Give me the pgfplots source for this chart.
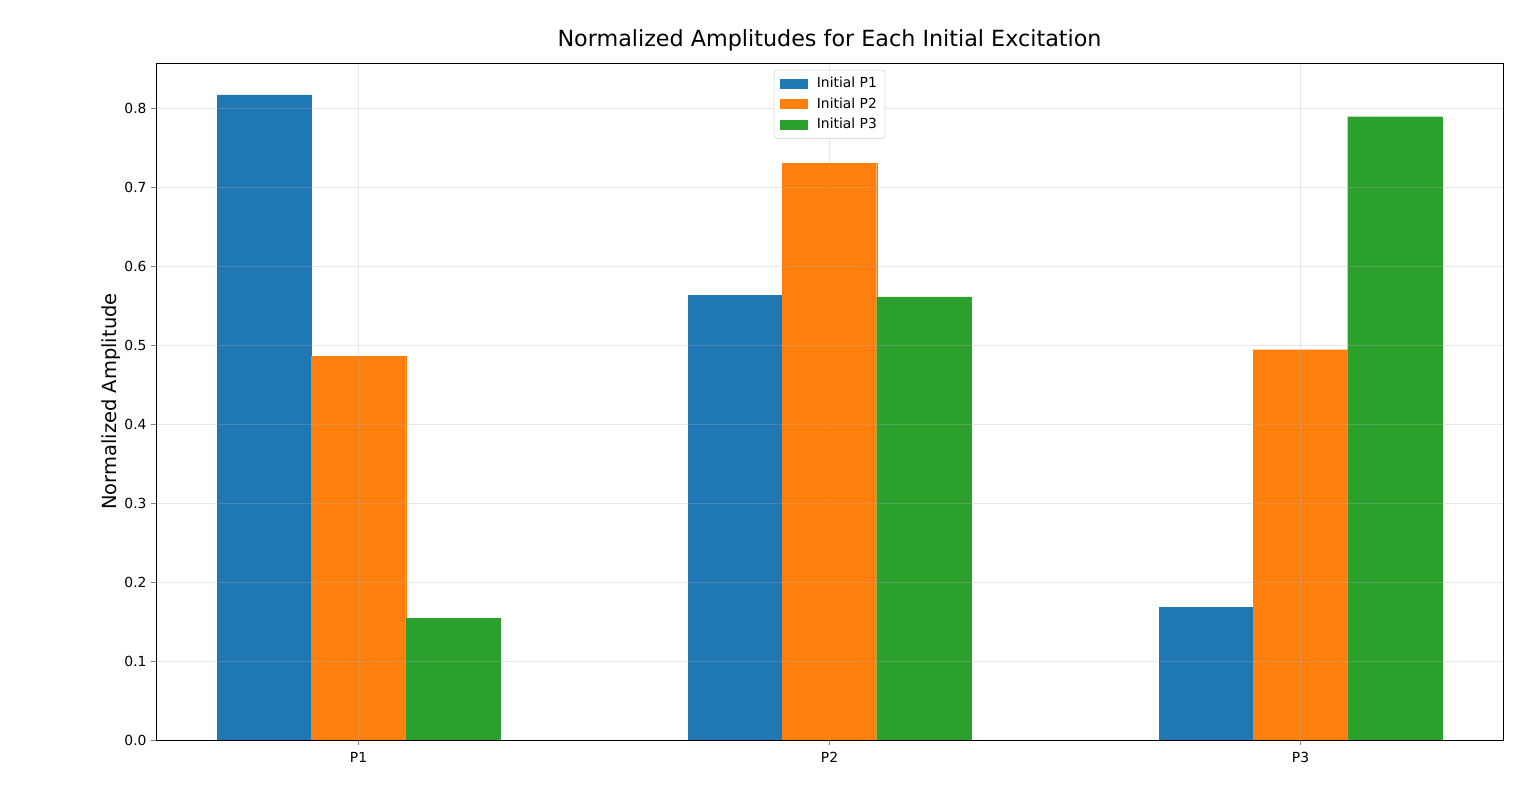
\documentclass[border=0pt]{standalone}
\usepackage{pgfplots}
\pgfplotsset{compat=1.18}
\usepackage{fontspec}
\setmainfont{DejaVu Sans}
\definecolor{tabblue}{HTML}{1F77B4}
\definecolor{taborange}{HTML}{FF7F0E}
\definecolor{tabgreen}{HTML}{2CA02C}
\begin{document}
\begin{tikzpicture}
\useasboundingbox (-117pt,-46.5pt) rectangle (1035pt,555pt);
\begin{axis}[
  at={(0,0)}, anchor=south west,
  scale only axis,
  width=1010.25pt, height=507.75pt,
  xmin=-0.43, xmax=2.43,
  ymin=0, ymax=0.857,
  xtick={0,1,2},
  xticklabels={P1,P2,P3},
  ytick={0,0.1,0.2,0.3,0.4,0.5,0.6,0.7,0.8},
  yticklabel style={/pgf/number format/fixed,/pgf/number format/fixed zerofill,/pgf/number format/precision=1},
  xticklabel style={yshift=-2pt},
  /pgf/number format/assume math mode=true,
  tick label style={font=\fontsize{10.4}{12}\selectfont},
  tick align=outside,
  tick pos=left,
  major tick length=3.6pt,
  grid=major,
  major grid style={draw=black!31, opacity=0.3, line width=0.6pt},
  axis on top,
  axis line style={line width=0.6pt},
  ybar,
  bar width=0.2,
  title={Normalized Amplitudes for Each Initial Excitation},
  title style={font=\fontsize{16.7}{20}\selectfont, yshift=-1pt},
  ylabel={Normalized Amplitude},
  ylabel style={font=\fontsize{14.6}{17}\selectfont, yshift=-4pt},
  legend style={at={(0.5,0.99)}, anchor=north, font=\fontsize{10.4}{12}\selectfont,
    draw=black!20, rounded corners=2pt, row sep=2pt, inner xsep=4pt, inner ysep=3.5pt},
  legend cell align=left,
  legend image code/.code={\fill[#1, sharp corners, draw=none] (0pt,-3.75pt) rectangle (21pt,3.75pt);
    \path[draw=none, fill=none] (0pt,0pt) -- (26pt,0pt);},
]
\addplot[fill=tabblue, draw=tabblue, line width=0.15pt, bar shift=-0.2] coordinates {(0,0.8165) (1,0.563) (2,0.168)};
\addplot[fill=taborange, draw=taborange, line width=0.15pt, bar shift=0] coordinates {(0,0.486) (1,0.730) (2,0.494)};
\addplot[fill=tabgreen, draw=tabgreen, line width=0.15pt, bar shift=0.2] coordinates {(0,0.154) (1,0.561) (2,0.789)};
\legend{Initial P1, Initial P2, Initial P3}
\end{axis}
\end{tikzpicture}
\end{document}
